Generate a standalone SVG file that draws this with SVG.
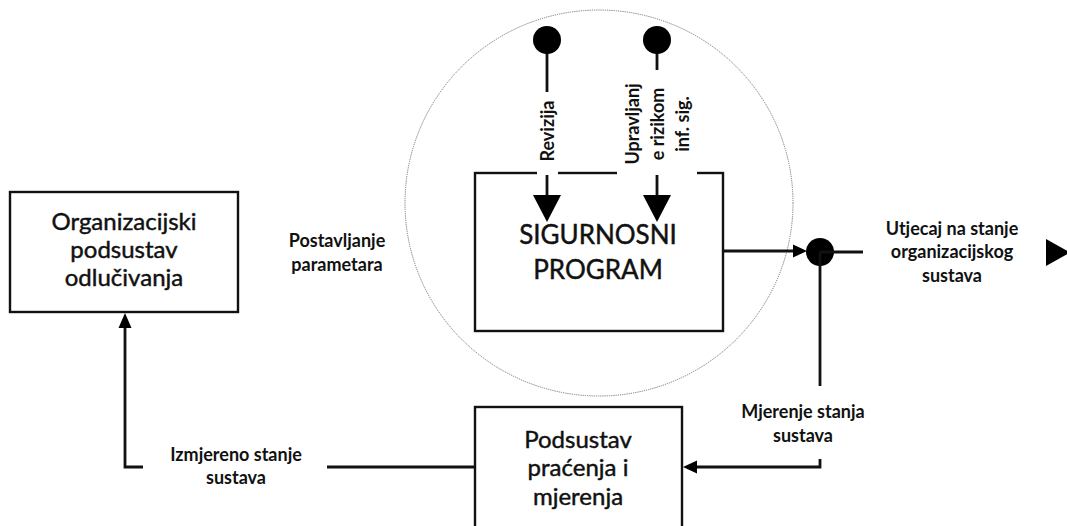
<svg xmlns="http://www.w3.org/2000/svg" width="1067" height="526" viewBox="0 0 1067 526">
<style>
.box{fill:#fff;stroke:#111;stroke-width:2.4}
.ln{fill:none;stroke:#111;stroke-width:2.8}
.hd{fill:#000}
.node{font-family:Lato,"Open Sans",sans-serif;font-size:24px;fill:#111;stroke:#111;stroke-width:0.45;text-anchor:middle}
.big{font-size:26px}
.lbl{font-family:Lato,"Open Sans",sans-serif;font-size:18px;font-weight:bold;fill:#111;text-anchor:middle}
.bg{fill:#fff}
</style>
<rect width="1067" height="526" fill="#fff"/>
<ellipse id="scope" cx="599" cy="203" rx="194" ry="193" fill="none" stroke="#777" stroke-width="1" stroke-dasharray="1.2 1"/>
<g id="node-program">
<rect class="box" x="475" y="173" width="248" height="158"/>
<text class="node big" x="598" y="244">SIGURNOSNI</text>
<text class="node big" x="598" y="279">PROGRAM</text>
</g>
<g id="node-org">
<rect class="box" x="10" y="192" width="228" height="120"/>
<text class="node" x="124" y="230">Organizacijski</text>
<text class="node" x="124" y="258">podsustav</text>
<text class="node" x="124" y="286">odlučivanja</text>
</g>
<g id="node-monitor">
<rect class="box" x="475" y="407" width="207" height="130"/>
<text class="node" x="578" y="448">Podsustav</text>
<text class="node" x="578" y="476">praćenja i</text>
<text class="node" x="578" y="505">mjerenja</text>
</g>
<g id="connectors">
<line class="ln" x1="547" y1="40" x2="547" y2="197"/>
<line class="ln" x1="657" y1="40" x2="657" y2="197"/>
<rect class="bg" x="537" y="92" width="21" height="83"/>
<rect class="bg" x="617" y="70" width="80" height="105"/>
<circle class="hd" cx="547" cy="40" r="14"/>
<circle class="hd" cx="657" cy="40" r="14"/>
<polygon class="hd" points="533,195 561,195 547,222"/>
<polygon class="hd" points="643,195 671,195 657,222"/>
<line class="ln" x1="723" y1="251" x2="796" y2="251"/>
<polygon class="hd" points="793,244.5 807,251 793,257.5"/>
<circle class="hd" cx="820" cy="252" r="14"/>
<line class="ln" x1="820" y1="252" x2="863" y2="252"/>
<line class="ln" x1="820" y1="252" x2="820" y2="386"/>
<polygon class="hd" points="1046,239 1046,266 1070,252.5"/>
<polyline class="ln" points="820,459 820,467 695,467"/>
<polygon class="hd" points="697,460.5 683,467 697,473.5"/>
<line class="ln" x1="475" y1="467" x2="327" y2="467"/>
<polyline class="ln" points="143,467 125,467 125,325"/>
<polygon class="hd" points="118.5,328 131.5,328 125,313"/>
</g>
<g id="labels">
<text class="lbl" transform="translate(553.5,131) rotate(-90)">Revizija</text>
<text class="lbl" transform="translate(639,124) rotate(-90)">Upravljanj</text>
<text class="lbl" transform="translate(664,124) rotate(-90)">e rizikom</text>
<text class="lbl" transform="translate(688.5,124) rotate(-90)">inf. sig.</text>
<text class="lbl" x="337" y="247">Postavljanje</text>
<text class="lbl" x="337" y="271">parametara</text>
<text class="lbl" x="952" y="235">Utjecaj na stanje</text>
<text class="lbl" x="952" y="258">organizacijskog</text>
<text class="lbl" x="952" y="282">sustava</text>
<text class="lbl" x="803" y="418">Mjerenje stanja</text>
<text class="lbl" x="803" y="442">sustava</text>
<text class="lbl" x="236" y="461">Izmjereno stanje</text>
<text class="lbl" x="236" y="484">sustava</text>
</g>
</svg>
